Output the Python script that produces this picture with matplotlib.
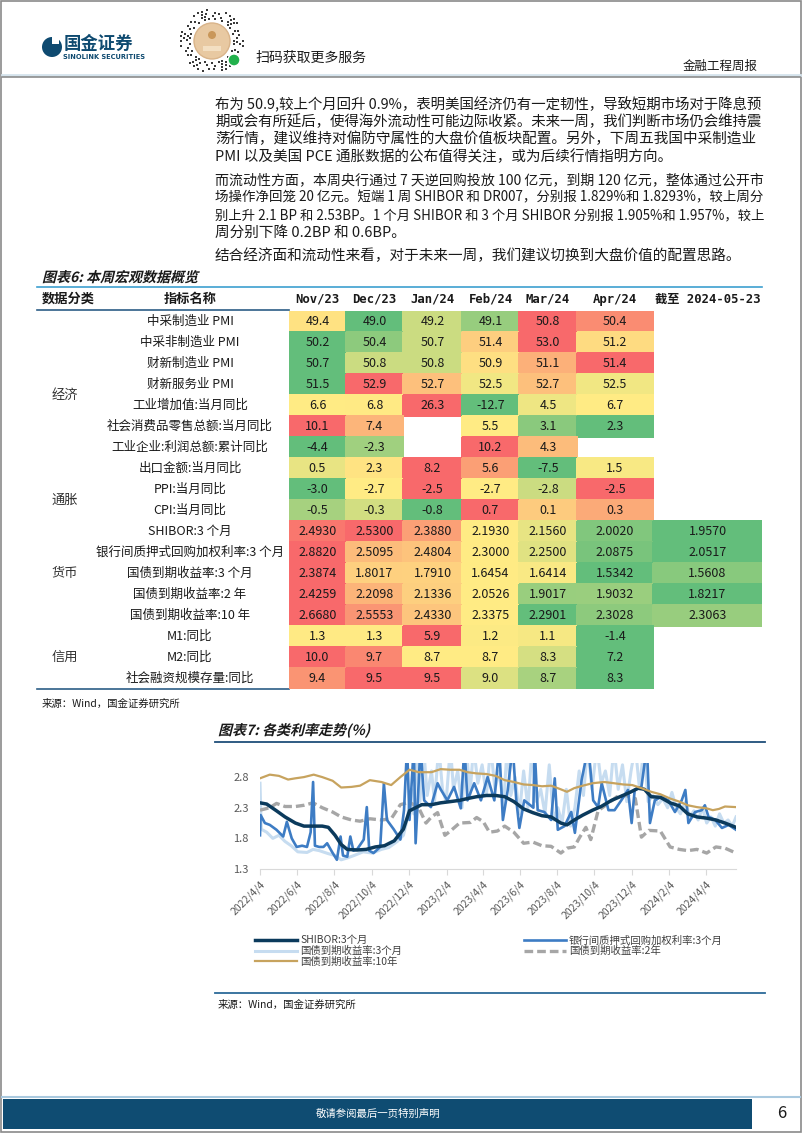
import numpy as np
import pandas as pd
import matplotlib
matplotlib.use("Agg")
import matplotlib.pyplot as plt
from matplotlib.patches import Rectangle, Circle, PathPatch
from matplotlib.textpath import TextPath
from matplotlib.font_manager import FontProperties
from matplotlib.transforms import Affine2D

plt.rcParams['font.family'] = ['Noto Sans CJK SC', 'DejaVu Sans']
plt.rcParams['axes.unicode_minus'] = False

# ---------------- text of the page ----------------
para1 = ["布为 50.9,较上个月回升 0.9%，表明美国经济仍有一定韧性，导致短期市场对于降息预",
         "期或会有所延后，使得海外流动性可能边际收紧。未来一周，我们判断市场仍会维持震",
         "荡行情，建议维持对偏防守属性的大盘价值板块配置。另外，下周五我国中采制造业",
         "PMI 以及美国 PCE 通胀数据的公布值得关注，或为后续行情指明方向。"]
para2 = ["而流动性方面，本周央行通过 7 天逆回购投放 100 亿元，到期 120 亿元，整体通过公开市",
         "场操作净回笼 20 亿元。短端 1 周 SHIBOR 和 DR007，分别报 1.829%和 1.8293%，较上周分",
         "别上升 2.1 BP 和 2.53BP。1 个月 SHIBOR 和 3 个月 SHIBOR 分别报 1.905%和 1.957%，较上",
         "周分别下降 0.2BP 和 0.6BP。"]
para3 = ["结合经济面和流动性来看，对于未来一周，我们建议切换到大盘价值的配置思路。"]

# ---------------- table data ----------------
nan = np.nan
months = ['Nov/23', 'Dec/23', 'Jan/24', 'Feb/24', 'Mar/24', 'Apr/24', '截至 2024-05-23']
groups = ['经济', '通胀', '货币', '信用']
group_rows = [(0, 8), (8, 10), (10, 15), (15, 18)]
indicators = ['中采制造业 PMI', '中采非制造业 PMI', '财新制造业 PMI', '财新服务业 PMI',
              '工业增加值:当月同比', '社会消费品零售总额:当月同比', '工业企业:利润总额:累计同比',
              '出口金额:当月同比', 'PPI:当月同比', 'CPI:当月同比', 'SHIBOR:3 个月',
              '银行间质押式回购加权利率:3 个月', '国债到期收益率:3 个月', '国债到期收益率:2 年',
              '国债到期收益率:10 年', 'M1:同比', 'M2:同比', '社会融资规模存量:同比']
values = np.array([
    [49.4, 49.0, 49.2, 49.1, 50.8, 50.4, nan],
    [50.2, 50.4, 50.7, 51.4, 53.0, 51.2, nan],
    [50.7, 50.8, 50.8, 50.9, 51.1, 51.4, nan],
    [51.5, 52.9, 52.7, 52.5, 52.7, 52.5, nan],
    [6.6, 6.8, 26.3, -12.7, 4.5, 6.7, nan],
    [10.1, 7.4, nan, 5.5, 3.1, 2.3, nan],
    [-4.4, -2.3, nan, 10.2, 4.3, nan, nan],
    [0.5, 2.3, 8.2, 5.6, -7.5, 1.5, nan],
    [-3.0, -2.7, -2.5, -2.7, -2.8, -2.5, nan],
    [-0.5, -0.3, -0.8, 0.7, 0.1, 0.3, nan],
    [2.4930, 2.5300, 2.3880, 2.1930, 2.1560, 2.0020, 1.9570],
    [2.8820, 2.5095, 2.4804, 2.3000, 2.2500, 2.0875, 2.0517],
    [2.3874, 1.8017, 1.7910, 1.6454, 1.6414, 1.5342, 1.5608],
    [2.4259, 2.2098, 2.1336, 2.0526, 1.9017, 1.9032, 1.8217],
    [2.6680, 2.5553, 2.4330, 2.3375, 2.2901, 2.3028, 2.3063],
    [1.3, 1.3, 5.9, 1.2, 1.1, -1.4, nan],
    [10.0, 9.7, 8.7, 8.7, 8.3, 7.2, nan],
    [9.4, 9.5, 9.5, 9.0, 8.7, 8.3, nan],
])
decimals = [1] * 10 + [4] * 5 + [1] * 3

# ---------------- rate series (chart 7) ----------------
shibor_dates = ['2022-04-04', '2022-04-15', '2022-05-01', '2022-05-15', '2022-06-01', '2022-06-15',
                '2022-07-01', '2022-07-15', '2022-07-25', '2022-08-05', '2022-08-15', '2022-08-25',
                '2022-09-10', '2022-09-25', '2022-10-10', '2022-10-25', '2022-11-10', '2022-11-25',
                '2022-12-05', '2022-12-15', '2022-12-25', '2023-01-10', '2023-01-25', '2023-02-10',
                '2023-02-25', '2023-03-10', '2023-03-25', '2023-04-10', '2023-04-25', '2023-05-10',
                '2023-05-25', '2023-06-10', '2023-06-25', '2023-07-10', '2023-07-25', '2023-08-10',
                '2023-08-20', '2023-09-01', '2023-09-15', '2023-10-01', '2023-10-15', '2023-11-01',
                '2023-11-15', '2023-12-01', '2023-12-15', '2023-12-25', '2024-01-05', '2024-01-20',
                '2024-02-05', '2024-02-20', '2024-03-05', '2024-03-20', '2024-04-05', '2024-04-20',
                '2024-05-05', '2024-05-23']
shibor_vals = [2.38, 2.36, 2.25, 2.15, 2.05, 2.00, 2.00, 2.00, 1.98, 1.85, 1.70, 1.62,
               1.61, 1.62, 1.66, 1.68, 1.76, 1.95, 2.25, 2.30, 2.35, 2.35, 2.38, 2.40,
               2.42, 2.45, 2.48, 2.50, 2.50, 2.48, 2.40, 2.28, 2.22, 2.17, 2.15, 2.05,
               2.02, 2.10, 2.18, 2.26, 2.32, 2.42, 2.48, 2.55, 2.62, 2.60, 2.48, 2.47,
               2.38, 2.33, 2.20, 2.15, 2.13, 2.10, 2.05, 1.98]

repo_dates = ['2022-04-04', '2022-04-05', '2022-04-12', '2022-04-20', '2022-05-01', '2022-05-12',
              '2022-05-18', '2022-05-26', '2022-06-03', '2022-06-12', '2022-06-20', '2022-06-26',
              '2022-06-30', '2022-07-03', '2022-07-10', '2022-07-17', '2022-07-23', '2022-07-31',
              '2022-08-08', '2022-08-14', '2022-08-18', '2022-08-25', '2022-08-30', '2022-09-04',
              '2022-09-10', '2022-09-21', '2022-09-26', '2022-09-30', '2022-10-07', '2022-10-18',
              '2022-10-24', '2022-10-29', '2022-11-09', '2022-11-20', '2022-11-26', '2022-12-01',
              '2022-12-05', '2022-12-12', '2022-12-15', '2022-12-23', '2022-12-29', '2023-01-09',
              '2023-01-20', '2023-01-25', '2023-02-05', '2023-02-16', '2023-02-27', '2023-03-05',
              '2023-03-10', '2023-03-21', '2023-04-01', '2023-04-12', '2023-04-23', '2023-05-01',
              '2023-05-07', '2023-05-15', '2023-05-23', '2023-05-29', '2023-06-03', '2023-06-11',
              '2023-06-26', '2023-06-28', '2023-07-03', '2023-07-14', '2023-07-25', '2023-07-31',
              '2023-08-05', '2023-08-16', '2023-08-27', '2023-09-02', '2023-09-13', '2023-09-24',
              '2023-10-02', '2023-10-10', '2023-10-16', '2023-10-27', '2023-11-06', '2023-11-17',
              '2023-11-28', '2023-12-04', '2023-12-09', '2023-12-20', '2023-12-29', '2024-01-03',
              '2024-01-11', '2024-01-22', '2024-02-02', '2024-02-13', '2024-02-24', '2024-03-01',
              '2024-03-06', '2024-03-17', '2024-03-28', '2024-04-02', '2024-04-08', '2024-04-19',
              '2024-04-30', '2024-05-11', '2024-05-23']
repo_vals = [1.85, 2.18, 2.05, 2.02, 1.94, 1.83, 2.07, 1.80, 1.66, 1.68, 1.66, 1.90,
             2.72, 1.68, 1.66, 1.66, 1.72, 1.58, 1.45, 1.83, 1.52, 1.50, 1.83, 1.60,
             1.62, 1.78, 2.31, 1.60, 1.56, 1.66, 2.70, 2.10, 1.95, 1.78, 2.26, 3.30,
             2.10, 3.30, 1.72, 3.30, 2.42, 2.31, 2.70, 2.60, 2.42, 2.64, 2.29, 3.30,
             2.42, 2.70, 2.42, 2.80, 2.42, 3.30, 2.10, 2.59, 3.30, 2.42, 1.97, 2.42,
             2.30, 3.30, 2.26, 2.23, 2.10, 2.78, 1.94, 2.00, 2.23, 1.89, 2.75, 3.30,
             2.42, 2.31, 2.70, 2.26, 2.26, 2.42, 2.59, 2.05, 2.59, 2.64, 3.30, 2.05,
             2.42, 2.48, 2.42, 2.23, 2.42, 2.59, 2.05, 2.23, 2.26, 2.34, 2.15, 2.10,
             1.97, 2.02, 1.94]

tb3m_dates = ['2022-04-04', '2022-04-06', '2022-04-15', '2022-04-25', '2022-05-05', '2022-05-15',
              '2022-05-25', '2022-06-05', '2022-06-20', '2022-06-30', '2022-07-10', '2022-07-25',
              '2022-08-05', '2022-08-15', '2022-08-25', '2022-09-05', '2022-09-20', '2022-10-05',
              '2022-10-20', '2022-11-01', '2022-11-15', '2022-11-25', '2022-12-01', '2022-12-08',
              '2022-12-12', '2022-12-18', '2022-12-22', '2022-12-28', '2023-01-03', '2023-01-10',
              '2023-01-15', '2023-01-22', '2023-01-28', '2023-02-03', '2023-02-10', '2023-02-15',
              '2023-02-22', '2023-03-01', '2023-03-08', '2023-03-14', '2023-03-20', '2023-03-27',
              '2023-04-03', '2023-04-10', '2023-04-17', '2023-04-24', '2023-05-01', '2023-05-08',
              '2023-05-14', '2023-05-20', '2023-05-27', '2023-06-03', '2023-06-10', '2023-06-17',
              '2023-06-24', '2023-07-01', '2023-07-08', '2023-07-15', '2023-07-22', '2023-07-29',
              '2023-08-05', '2023-08-12', '2023-08-19', '2023-08-26', '2023-09-02', '2023-09-09',
              '2023-09-16', '2023-09-23', '2023-09-30', '2023-10-08', '2023-10-15', '2023-10-22',
              '2023-10-29', '2023-11-05', '2023-11-12', '2023-11-19', '2023-11-26', '2023-12-03',
              '2023-12-10', '2023-12-17', '2023-12-24', '2023-12-31', '2024-01-08', '2024-01-16',
              '2024-01-24', '2024-02-01', '2024-02-08', '2024-02-15', '2024-02-22', '2024-03-01',
              '2024-03-08', '2024-03-15', '2024-03-22', '2024-03-29', '2024-04-05', '2024-04-12',
              '2024-04-19', '2024-04-26', '2024-05-03', '2024-05-10', '2024-05-17', '2024-05-23']
tb3m_vals = [2.70, 1.95, 1.90, 1.80, 1.85, 1.75, 1.68, 1.58, 1.57, 1.62, 1.60, 1.55,
             1.52, 1.45, 1.48, 1.52, 1.58, 1.56, 1.62, 1.65, 1.75, 1.85, 2.10, 2.60,
             2.20, 3.30, 2.40, 3.30, 2.50, 2.90, 2.40, 3.30, 2.60, 2.40, 3.30, 2.60,
             2.90, 2.30, 3.30, 2.50, 3.30, 2.70, 3.00, 2.50, 3.30, 2.60, 2.90, 2.30,
             3.30, 2.50, 2.80, 2.20, 2.90, 2.30, 3.30, 2.40, 2.60, 2.20, 3.00, 2.10,
             2.30, 2.05, 2.60, 2.00, 2.30, 2.90, 2.50, 3.30, 2.60, 3.30, 2.70, 2.90,
             2.50, 3.30, 2.60, 3.00, 2.40, 2.90, 3.30, 2.60, 3.30, 2.40, 2.50, 2.35,
             2.45, 2.30, 2.55, 2.30, 2.20, 2.40, 2.15, 2.25, 2.10, 2.30, 2.05, 2.15,
             2.00, 2.20, 2.05, 2.10, 2.00, 2.15]

tb2y_dates = ['2022-04-04', '2022-04-20', '2022-05-01', '2022-05-15', '2022-06-01', '2022-06-15',
              '2022-06-30', '2022-07-15', '2022-08-01', '2022-08-15', '2022-09-01', '2022-09-15',
              '2022-10-01', '2022-10-20', '2022-11-05', '2022-11-20', '2022-12-05', '2022-12-20',
              '2023-01-01', '2023-01-10', '2023-01-20', '2023-02-01', '2023-02-10', '2023-02-25',
              '2023-03-15', '2023-03-25', '2023-04-05', '2023-04-15', '2023-04-28', '2023-05-10',
              '2023-05-25', '2023-06-10', '2023-06-25', '2023-07-10', '2023-07-25', '2023-08-10',
              '2023-08-20', '2023-09-01', '2023-09-10', '2023-09-20', '2023-09-28', '2023-10-10',
              '2023-10-25', '2023-11-10', '2023-11-25', '2023-12-10', '2023-12-20', '2024-01-01',
              '2024-01-20', '2024-02-05', '2024-02-20', '2024-03-05', '2024-03-20', '2024-04-05',
              '2024-04-20', '2024-05-05', '2024-05-23']
tb2y_vals = [2.26, 2.30, 2.37, 2.32, 2.32, 2.34, 2.38, 2.30, 2.23, 2.15, 2.10, 2.08,
             2.12, 2.10, 2.12, 2.35, 2.39, 2.30, 2.05, 2.15, 2.22, 1.85, 1.92, 2.05,
             2.06, 2.14, 2.07, 1.90, 1.92, 2.00, 1.90, 1.72, 1.74, 1.68, 1.67, 1.56,
             1.64, 1.66, 1.82, 1.98, 1.78, 2.25, 2.36, 2.48, 2.50, 2.45, 1.82, 1.93,
             1.92, 1.66, 1.62, 1.60, 1.62, 1.56, 1.66, 1.64, 1.56]

tb10y_dates = ['2022-04-04', '2022-04-20', '2022-05-05', '2022-05-20', '2022-06-01', '2022-06-15',
               '2022-07-01', '2022-07-15', '2022-08-01', '2022-08-15', '2022-09-01', '2022-09-15',
               '2022-10-01', '2022-10-20', '2022-11-05', '2022-11-20', '2022-12-05', '2022-12-20',
               '2023-01-10', '2023-01-25', '2023-02-10', '2023-02-25', '2023-03-10', '2023-03-25',
               '2023-04-10', '2023-04-25', '2023-05-10', '2023-05-25', '2023-06-10', '2023-06-25',
               '2023-07-10', '2023-07-25', '2023-08-10', '2023-08-20', '2023-09-01', '2023-09-15',
               '2023-10-01', '2023-10-20', '2023-11-05', '2023-11-20', '2023-12-05', '2023-12-20',
               '2024-01-05', '2024-01-20', '2024-02-05', '2024-02-20', '2024-03-05', '2024-03-20',
               '2024-04-05', '2024-04-15', '2024-04-25', '2024-05-05', '2024-05-23']
tb10y_vals = [2.78, 2.84, 2.82, 2.76, 2.78, 2.80, 2.84, 2.80, 2.74, 2.63, 2.64, 2.66,
              2.75, 2.72, 2.67, 2.80, 2.92, 2.88, 2.88, 2.93, 2.92, 2.92, 2.88, 2.86,
              2.85, 2.82, 2.75, 2.72, 2.68, 2.67, 2.65, 2.66, 2.60, 2.56, 2.62, 2.66,
              2.70, 2.72, 2.70, 2.68, 2.67, 2.62, 2.56, 2.52, 2.45, 2.40, 2.34, 2.31,
              2.29, 2.26, 2.28, 2.32, 2.31]

tick_labels = ['2022/4/4', '2022/6/4', '2022/8/4', '2022/10/4', '2022/12/4', '2023/2/4', '2023/4/4',
               '2023/6/4', '2023/8/4', '2023/10/4', '2023/12/4', '2024/2/4', '2024/4/4']

# ---------------- figure / page ----------------
fig = plt.figure(figsize=(8.02, 11.33), dpi=100)
page = fig.add_axes([0, 0, 1, 1])
page.set_xlim(0, 802)
page.set_ylim(1133, 0)
page.axis('off')

NAVY = '#0f4c72'
DARK = '#1a1a1a'


def slanted(x, y, s, size, color=DARK):
    fp = FontProperties(family='Noto Sans CJK SC', weight='bold')
    tp = TextPath((0, 0), s, size=size, prop=fp)
    tr = Affine2D().skew_deg(14, 0).scale(1, -1).translate(x, y)
    page.add_patch(PathPatch(tr.transform_path(tp), fc=color, ec='none', lw=0))


# border
page.add_patch(Rectangle((1, 1), 800, 1131, fill=False, ec='#8a8a8a', lw=1.2))

# header: logo, QR, titles
page.add_patch(Circle((52, 47), 10, fc='#0e4a70', ec='none'))
page.add_patch(Rectangle((52, 37), 7, 7, fc='white', ec='none'))
page.text(64, 44, '国金证券', fontsize=12.5, fontweight='bold', color='#0e4a70', va='center')
page.text(63, 57, 'SINOLINK SECURITIES', fontsize=4.8, fontweight='bold', color='#0e4a70',
          va='center', family='DejaVu Sans')
ang = np.linspace(0, 2 * np.pi, 40, endpoint=False)
for k, r in enumerate([22, 25, 28, 31]):
    a = ang[(np.arange(40) * (k + 3)) % 7 < 4] + k * 0.05
    page.scatter(212 + r * np.cos(a), 41 + r * np.sin(a), s=3, marker='s', c='#3a3a3a', lw=0)
page.add_patch(Circle((212, 41), 18, fc='#e8c9a2', ec='#d9b48a', lw=1))
page.add_patch(Circle((212, 35), 4, fc='#c9975a', ec='none'))
page.add_patch(Rectangle((203, 46), 18, 5, fc='#f3dfc2', ec='none'))
page.add_patch(Circle((234, 60), 6, fc='#22b14c', ec='white', lw=1))
page.text(255, 58, '扫码获取更多服务', fontsize=10, color=DARK, va='center')
page.text(758, 66, '金融工程周报', fontsize=9, color=DARK, va='center', ha='right')
page.plot([2, 800], [74.5, 74.5], color='#d5e3ec', lw=2)
page.plot([2, 800], [76.8, 76.8], color='#8c8c8c', lw=1.2)

# body paragraphs (long lines are squeezed to the text block width afterwards)
body = []
y = 104
for para in [para1, para2, para3]:
    for line in para:
        body.append(page.text(215, y, line, fontsize=10.5, color=DARK, va='center'))
        y += 17.5
    y += 6

# ---------------- table 6 ----------------
slanted(42, 282, '图表6: 本周宏观数据概览', 14)
tab_top, row_h = 311, 21
col_widths = [57, 57, 59, 57, 58, 76, 109]
col_edges = np.concatenate([[0], np.cumsum(col_widths)])
page.plot([37, 762], [287, 287], color='#3d9fd0', lw=1.2)
page.plot([37, 289], [310, 310], color='#2c5d86', lw=1.2)
page.plot([37, 289], [689, 689], color='#2c5d86', lw=1.2)

page.text(42, 299, '数据分类', fontsize=9.5, fontweight='bold', color=DARK, va='center')
page.text(190, 299, '指标名称', fontsize=9.5, fontweight='bold', color=DARK, va='center', ha='center')
for j, m in enumerate(months):
    page.text(289 + (col_edges[j] + col_edges[j + 1]) / 2, 299, m, fontsize=8.8, fontweight='bold',
              color=DARK, va='center', ha='center', family=['DejaVu Sans Mono', 'Noto Sans CJK SC'])
for g, (r0, r1) in zip(groups, group_rows):
    page.text(65, tab_top + row_h * (r0 + r1) / 2, g, fontsize=9.5, color='#333333',
              va='center', ha='center')
for i, name in enumerate(indicators):
    page.text(190, tab_top + row_h * (i + 0.5), name, fontsize=9, color=DARK, va='center', ha='center')

green = np.array([99, 190, 123]) / 255
yellow = np.array([255, 235, 132]) / 255
red = np.array([248, 105, 107]) / 255
rgba = np.ones(values.shape + (4,))
rgba[..., 3] = 0
for i, row in enumerate(values):
    ok = ~np.isnan(row)
    lo, mid, hi = row[ok].min(), np.percentile(row[ok], 50), row[ok].max()
    for j in np.where(ok)[0]:
        v = row[j]
        if v <= mid:
            t = 0 if mid == lo else (v - lo) / (mid - lo)
            c = green + (yellow - green) * t
        else:
            t = (v - mid) / (hi - mid)
            c = yellow + (red - yellow) * t
        rgba[i, j, :3] = c
        rgba[i, j, 3] = 1

tab = fig.add_axes([289 / 802, 1 - 689 / 1133, col_edges[-1] / 802, 378 / 1133])
tab.pcolormesh(col_edges, np.arange(19), rgba, edgecolors='face', linewidth=0.3)
tab.set_xlim(0, col_edges[-1])
tab.set_ylim(18, 0)
tab.axis('off')
for i in range(values.shape[0]):
    for j in range(values.shape[1]):
        if not np.isnan(values[i, j]):
            tab.text((col_edges[j] + col_edges[j + 1]) / 2, i + 0.5, f'{values[i, j]:.{decimals[i]}f}',
                     ha='center', va='center', fontsize=9, color=DARK)

page.text(42, 704, '来源：Wind，国金证券研究所', fontsize=7.5, color=DARK, va='center')

# ---------------- chart 7 ----------------
slanted(218, 735, '图表7: 各类利率走势(%)', 14)
page.plot([215, 765], [742, 742], color='#1f4e79', lw=1.3)

ax = fig.add_axes([260 / 802, 1 - 869 / 1133, 476 / 802, 106 / 1133])
ax.plot(pd.to_datetime(tb3m_dates), tb3m_vals, color='#c6dcf0', lw=2.2, zorder=1,
        label='国债到期收益率:3个月')
ax.plot(pd.to_datetime(tb2y_dates), tb2y_vals, color='#a6a6a6', lw=2.4, ls=(0, (2.6, 1.2)), zorder=2,
        label='国债到期收益率:2年')
ax.plot(pd.to_datetime(repo_dates), repo_vals, color='#3d7cc4', lw=1.9, zorder=3,
        label='银行间质押式回购加权利率:3个月')
ax.plot(pd.to_datetime(shibor_dates), shibor_vals, color='#0b3a5c', lw=2.5, zorder=4,
        label='SHIBOR:3个月')
ax.plot(pd.to_datetime(tb10y_dates), tb10y_vals, color='#c7a35e', lw=1.6, zorder=5,
        label='国债到期收益率:10年')
ax.set_xlim(pd.Timestamp(tb10y_dates[0]), pd.Timestamp(tb10y_dates[-1]))
ax.set_ylim(1.3, 3.03)
ax.set_yticks([1.3, 1.8, 2.3, 2.8])
ax.set_yticklabels(['1.3', '1.8', '2.3', '2.8'], fontsize=8, color='#595959')
ax.set_xticks(pd.to_datetime(tick_labels, format='%Y/%m/%d'))
ax.set_xticklabels(tick_labels, rotation=45, ha='right', rotation_mode='anchor',
                   fontsize=7.5, color='#595959')
for s in ['top', 'right', 'left']:
    ax.spines[s].set_visible(False)
ax.spines['bottom'].set_color('#d9d9d9')
ax.tick_params(axis='y', length=0, pad=8)
ax.tick_params(axis='x', length=4, color='#d9d9d9', pad=3)

h = {l.get_label(): l for l in ax.get_lines()}
order = ['SHIBOR:3个月', '国债到期收益率:3个月', '国债到期收益率:10年',
         '银行间质押式回购加权利率:3个月', '国债到期收益率:2年']
fig.legend([h[k] for k in order], order, loc='upper left', bbox_to_anchor=(250 / 802, 1 - 930 / 1133),
           ncol=2, frameon=False, fontsize=7.5, handlelength=4.0, columnspacing=11.7,
           labelspacing=0.05, handletextpad=0.3, borderpad=0, labelcolor='#404040')

page.plot([215, 765], [993, 993], color='#2c6a99', lw=1.3)
page.text(218, 1005, '来源：Wind，国金证券研究所', fontsize=7.5, color=DARK, va='center')

# ---------------- footer ----------------
page.plot([2, 800], [1097, 1097], color='#a9c9df', lw=1.5)
page.add_patch(Rectangle((3, 1099), 749, 30, fc=NAVY, ec='none'))
page.text(378, 1114, '敬请参阅最后一页特别声明', fontsize=7.5, color='white', va='center', ha='center')
page.text(782, 1114, '6', fontsize=12, color=DARK, va='center', ha='center')

# squeeze body lines that run past the right margin of the text block
fig.canvas.draw()
rend = fig.canvas.get_renderer()
for t in body:
    w = t.get_window_extent(rend).width
    if w > 550:
        t.set_fontsize(t.get_fontsize() * 550 / w)

fig.savefig('out.png', dpi=100)
